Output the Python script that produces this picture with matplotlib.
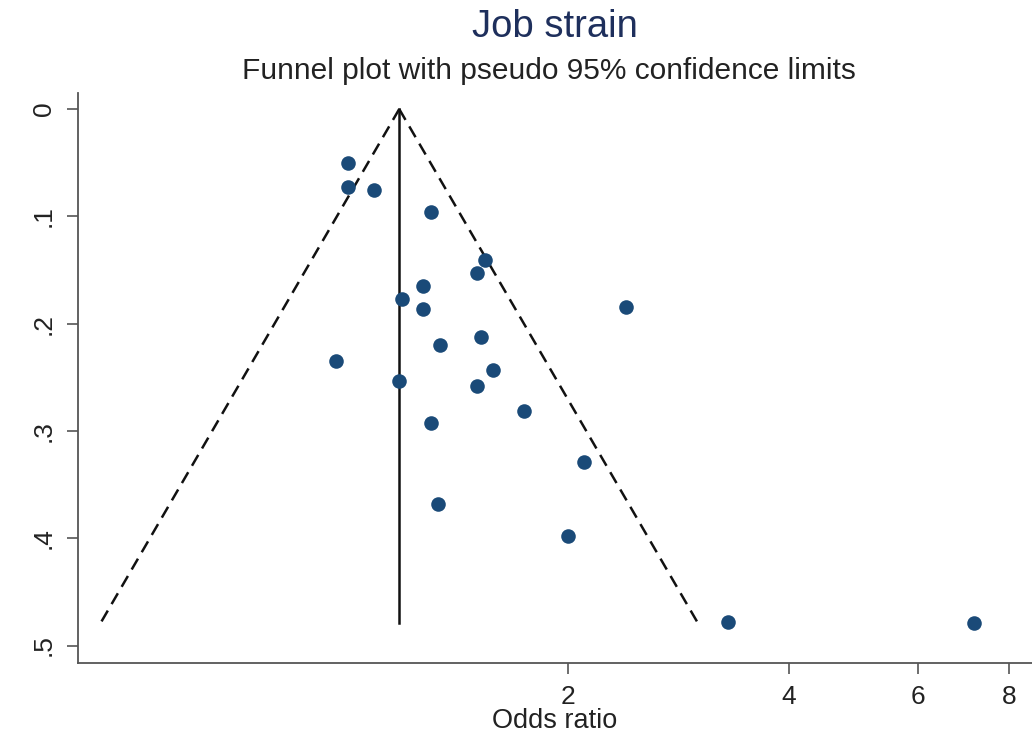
import numpy as np
import matplotlib
matplotlib.use("Agg")
import matplotlib.pyplot as plt
from matplotlib.ticker import FixedLocator, NullLocator

plt.rcParams['font.family'] = ['Liberation Sans', 'DejaVu Sans']

# study estimates: odds ratio and standard error of log(OR)
odds_ratio = [1.00, 1.00, 1.085, 1.30, 1.54, 1.50, 1.265, 1.184, 1.265, 2.40,
              0.964, 1.175, 1.336, 1.52, 1.578, 1.50, 1.297, 1.327,
              1.74, 2.10, 2.00, 3.30, 7.16]
se_log_or = [0.050, 0.073, 0.075, 0.096, 0.141, 0.153, 0.165, 0.177, 0.186, 0.184,
             0.235, 0.253, 0.220, 0.2125, 0.243, 0.258, 0.293, 0.368,
             0.281, 0.329, 0.398, 0.478, 0.479]

pooled_or = 1.175
max_se = 0.479
x_ticks = [2, 4, 6, 8]
y_ticks = [0, 0.1, 0.2, 0.3, 0.4, 0.5]
y_tick_labels = ['0', '.1', '.2', '.3', '.4', '.5']

fig = plt.figure(figsize=(10.32, 7.36), dpi=100)
ax = fig.add_axes([78 / 1032, 73.3 / 736, 1 - 78 / 1032, 569.7 / 736])

# pseudo 95% confidence limits around the pooled estimate
se_line = np.array([0.0, max_se])
lo = np.exp(np.log(pooled_or) - 1.96 * se_line)
hi = np.exp(np.log(pooled_or) + 1.96 * se_line)
ax.plot(lo, se_line, color='#111111', lw=1.8, ls=(0, (5, 3)))
ax.plot(hi, se_line, color='#111111', lw=1.8, ls=(0, (5, 3)))
ax.plot([pooled_or, pooled_or], se_line, color='#111111', lw=1.8)

ax.scatter(odds_ratio, se_log_or, s=110, color='#1a4a78', zorder=3, linewidths=0)

ax.set_xscale('log')
ax.set_xlim(0.428, 8.59)
ax.set_ylim(0.516, -0.015)

ax.xaxis.set_major_locator(FixedLocator(x_ticks))
ax.xaxis.set_minor_locator(NullLocator())
ax.set_xticklabels([str(t) for t in x_ticks])
ax.set_yticks(y_ticks)
ax.set_yticklabels(y_tick_labels, rotation=90, va='center')

for side in ['top', 'right']:
    ax.spines[side].set_visible(False)
for side in ['left', 'bottom']:
    ax.spines[side].set_color('#555555')
    ax.spines[side].set_linewidth(1.3)

ax.tick_params(axis='both', direction='out', length=8, width=1.2, color='#555555',
               labelsize=19, labelcolor='#222222', pad=8)

ax.set_xlabel('Odds ratio', fontsize=19.5, color='#222222', labelpad=-1)

fig.text(555 / 1032, 1 - 27 / 736, 'Job strain', ha='center', va='center',
         fontsize=27.5, color='#1e2f5c')
fig.text(549 / 1032, 1 - 71 / 736, 'Funnel plot with pseudo 95% confidence limits',
         ha='center', va='center', fontsize=21.5, color='#222222')

fig.savefig('out.png', dpi=100)
